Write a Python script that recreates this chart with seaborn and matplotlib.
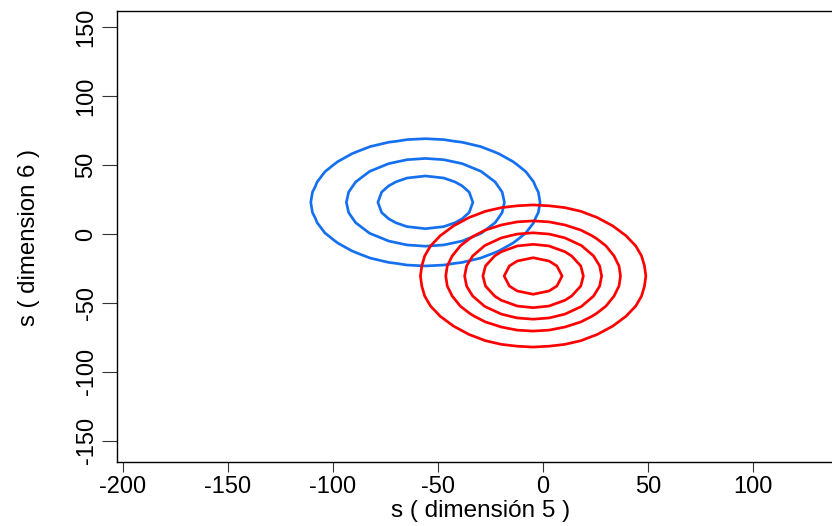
import numpy as np
import matplotlib
matplotlib.use("Agg")
import matplotlib.pyplot as plt
import seaborn as sns

# ---- data ----
group_names = ["grupo A", "grupo B"]
group_colors = ["#1570EF", "#FF0000"]
center_x = [-56.0, -4.7]
center_y = [23.0, -30.5]
sigma_x = [30.0, 26.0]
sigma_y = [25.4, 25.0]
# contour radii, in units of sigma
radii_a = [1.81, 1.25, 0.76]
radii_b = [2.06, 1.59, 1.25, 0.92, 0.54]
x_ticks = [-200, -150, -100, -50, 0, 50, 100]
y_ticks = [-150, -100, -50, 0, 50, 100, 150]
x_label = "s ( dimensión 5 )"
y_label = "s ( dimension 6 )"

sns.set_theme(style="white")
plt.rcParams["font.family"] = ["Liberation Sans", "DejaVu Sans"]

W, H = 832, 526
fig = plt.figure(figsize=(W / 100, H / 100), dpi=100)
left, right, top, bottom = 117, 840, 11, 462
ax = fig.add_axes([left / W, 1 - bottom / H, (right - left) / W, (bottom - top) / H])

x_min = (left - 543) / 2.1
x_max = (right - 543) / 2.1
y_max = (234 - top) / 1.377
y_min = (234 - bottom) / 1.377

for cx, cy, sx, sy, radii, col in zip(center_x, center_y, sigma_x, sigma_y,
                                       [radii_a, radii_b], group_colors):
    gx = np.linspace(cx - 3.5 * sx, cx + 3.5 * sx, 25)
    gy = np.linspace(cy - 3.5 * sy, cy + 3.5 * sy, 25)
    X, Y = np.meshgrid(gx, gy)
    Z = np.exp(-0.5 * (((X - cx) / sx) ** 2 + ((Y - cy) / sy) ** 2))
    levels = sorted(np.exp(-0.5 * np.array(radii) ** 2))
    ax.contour(X, Y, Z, levels=levels, colors=col, linewidths=1.95)

ax.set_xlim(x_min, x_max)
ax.set_ylim(y_min, y_max)
ax.set_xticks(x_ticks)
ax.set_yticks(y_ticks)
ax.set_xticklabels([str(v) for v in x_ticks], fontsize=17)
ax.set_yticklabels([str(v) for v in y_ticks], fontsize=17, rotation=90, va="center")

for s in ["left", "bottom", "top"]:
    ax.spines[s].set_color("black")
    ax.spines[s].set_linewidth(1.0)
ax.spines["right"].set_visible(False)

ax.tick_params(axis="x", direction="out", length=7.5, width=0.8, color="#333333",
               pad=2.5, bottom=True, labelcolor="black")
ax.tick_params(axis="y", direction="out", length=10.5, width=0.8, color="#333333",
               pad=3.5, left=True, labelcolor="black")

ax.set_xlabel(x_label, fontsize=17.5, va="center", color="black")
ax.set_ylabel(y_label, fontsize=17.3, va="center", color="black")
ax.xaxis.set_label_coords((481 - left) / (right - left), -(511 - bottom) / (bottom - top))
ax.yaxis.set_label_coords(-(left - 29) / (right - left), (bottom - 238) / (bottom - top))

fig.savefig("out.png", dpi=100)
